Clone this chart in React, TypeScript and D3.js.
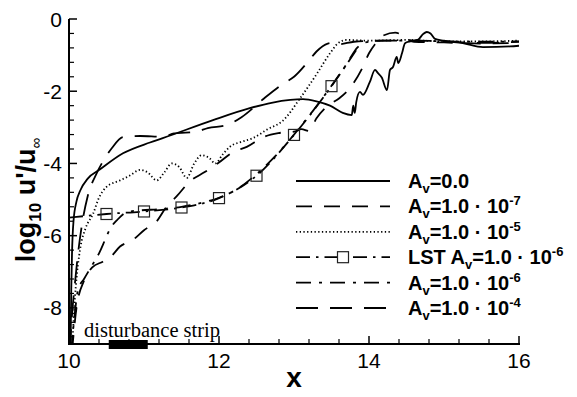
import * as d3 from 'd3';

// amplitude curves, log10 u'/u_inf over x
const av0: [number, number][] = [
  [10.02, -9.2], [10.03, -7.5], [10.04, -6.5], [10.06, -5.6], [10.1, -5.05], [10.15, -4.75],
  [10.25, -4.42], [10.41, -4.17], [10.72, -3.72], [11.08, -3.42], [11.25, -3.3], [11.92, -2.8],
  [12.41, -2.47], [12.7, -2.32], [12.95, -2.24], [13.12, -2.22], [13.3, -2.28], [13.48, -2.4],
  [13.65, -2.6], [13.77, -2.66], [13.79, -2.4], [13.81, -2.6], [13.83, -2.3], [13.88, -2.02],
  [13.92, -2.1], [14.01, -1.75], [14.08, -1.41], [14.12, -1.5], [14.17, -1.62], [14.24, -1.97],
  [14.28, -1.41], [14.32, -1.33], [14.37, -1.05], [14.39, -1.22], [14.44, -0.95], [14.48, -0.67],
  [14.55, -0.62], [14.65, -0.58], [14.72, -0.42], [14.77, -0.36], [14.82, -0.4], [14.88, -0.55],
  [15.0, -0.6], [15.25, -0.67], [15.52, -0.78], [15.88, -0.76], [16.0, -0.74],
];
const av1e7: [number, number][] = [
  [10.04, -9.2], [10.1, -8.0], [10.2, -7.25], [10.31, -6.88], [10.45, -6.72], [10.55, -6.6],
  [10.68, -6.3], [10.85, -6.12], [11.0, -5.85], [11.17, -5.6], [11.3, -5.2], [11.44, -4.9],
  [11.61, -4.5], [11.81, -4.24], [11.99, -3.99], [12.19, -3.68], [12.37, -3.54], [12.59, -3.27],
  [12.79, -3.16], [13.0, -3.12], [13.1, -3.05], [13.2, -3.1], [13.3, -2.75], [13.45, -2.4],
  [13.6, -2.2], [13.75, -1.9], [13.9, -1.4], [14.0, -0.95], [14.08, -0.7], [14.2, -0.45],
  [14.35, -0.38], [14.45, -0.45], [14.6, -0.63], [15.0, -0.65], [15.5, -0.68], [16.0, -0.66],
];
const av1e5: [number, number][] = [
  [10.04, -9.2], [10.08, -7.7], [10.12, -6.8], [10.15, -6.35], [10.22, -5.8], [10.32, -5.4],
  [10.4, -4.95], [10.5, -4.65], [10.68, -4.47], [10.8, -4.35], [10.95, -4.18], [11.05, -4.25],
  [11.17, -4.47], [11.27, -4.25], [11.37, -4.0], [11.47, -4.1], [11.57, -4.4], [11.67, -4.0],
  [11.77, -3.77], [11.87, -3.85], [11.95, -4.0], [12.05, -3.75], [12.15, -3.53], [12.3, -3.4],
  [12.45, -3.3], [12.65, -3.05], [12.85, -2.82], [13.08, -2.2], [13.31, -1.5], [13.48, -0.95],
  [13.6, -0.65], [13.7, -0.58], [14.0, -0.6], [14.5, -0.58], [15.0, -0.62], [15.5, -0.62],
  [16.0, -0.6],
];
const lst1e6: [number, number][] = [
  [10.0, -5.5], [10.2, -5.46], [10.5, -5.4], [11.0, -5.33], [11.5, -5.22], [12.0, -4.96],
  [12.5, -4.34], [13.0, -3.21], [13.5, -1.86], [13.85, -0.8],
];
const lstMarks = [10.5, 11.0, 11.5, 12.0, 12.5, 13.0, 13.5];
const av1e6: [number, number][] = [
  [10.03, -9.2], [10.08, -8.1], [10.12, -7.5], [10.2, -7.2], [10.3, -6.85], [10.41, -6.45],
  [10.48, -6.12], [10.55, -5.8], [10.64, -5.57], [10.77, -5.35], [10.95, -5.3], [11.2, -5.27],
  [11.5, -5.2], [11.75, -5.1], [12.0, -4.95], [12.25, -4.7], [12.5, -4.3], [12.75, -3.8],
  [13.0, -3.2], [13.25, -2.55], [13.5, -1.85], [13.7, -1.25], [13.85, -0.78], [13.95, -0.65],
  [14.2, -0.6], [14.6, -0.6], [15.0, -0.62], [15.5, -0.63], [16.0, -0.62],
];
const av1e4: [number, number][] = [
  [10.01, -9.2], [10.04, -8.2], [10.08, -7.3], [10.12, -6.5], [10.18, -5.6], [10.25, -4.9],
  [10.37, -4.27], [10.48, -3.85], [10.57, -3.58], [10.72, -3.27], [10.95, -3.24], [11.25, -3.26],
  [11.4, -3.17], [11.7, -3.12], [11.85, -3.02], [12.1, -2.94], [12.3, -2.72], [12.6, -2.2],
  [12.85, -1.8], [13.0, -1.6], [13.2, -1.15], [13.3, -0.9], [13.45, -0.68], [13.52, -0.66],
  [13.6, -0.7], [13.8, -0.63], [14.2, -0.6], [14.6, -0.6], [15.0, -0.62], [15.5, -0.66],
  [16.0, -0.63],
];

const xMajor = [10, 12, 14, 16];
const yMajor = [0, -2, -4, -6, -8];
const strip = [10.53, 11.05];
const legendExp = [null, '-7', '-5', '-6', '-6', '-4'];
const legendPrefix = ['', '', '', 'LST ', '', ''];

const W = 577;
const H = 397;
const left = 69;
const right = 519;
const top = 19;
const bottom = 344;

const x = d3.scaleLinear().domain([10, 16]).range([left, right]);
const y = d3.scaleLinear().domain([-9, 0]).range([bottom, top]);

const line = d3
  .line<[number, number]>()
  .x((d) => x(d[0]))
  .y((d) => y(d[1]))
  .curve(d3.curveMonotoneX);

const series = [
  { data: av0, dash: 'none' },
  { data: av1e7, dash: '16 12' },
  { data: av1e5, dash: '1.3 2.4' },
  { data: lst1e6, dash: '14 6 2.5 6' },
  { data: av1e6, dash: '15 8 3 8' },
  { data: av1e4, dash: '22 12' },
];

const font = 'Helvetica, Arial, "Liberation Sans", sans-serif';

export default function App() {
  const minorX = d3.range(10, 16.001, 0.4).filter((v) => !xMajor.some((m) => Math.abs(m - v) < 1e-6));
  const minorY = d3.range(0, -9.001, -0.4).filter((v) => !yMajor.some((m) => Math.abs(m - v) < 1e-6));
  const sq = 11;
  const legendY = (i: number) => 181 + 25.4 * i;

  return (
    <svg width={W} height={H} style={{ position: 'absolute', left: 0, top: 0, background: '#fff' }}>
      <defs>
        <clipPath id="plot">
          <rect x={left} y={top} width={right - left} height={bottom - top} />
        </clipPath>
      </defs>

      <g clipPath="url(#plot)" fill="none" stroke="#000" strokeWidth={1.8}>
        {series.map((s, i) => (
          <path key={i} d={line(s.data) ?? ''} strokeDasharray={s.dash} strokeLinecap="butt" />
        ))}
      </g>
      {lstMarks.map((v) => {
        const yy = lst1e6.find((p) => Math.abs(p[0] - v) < 1e-6)![1];
        return (
          <rect key={v} x={x(v) - sq / 2} y={y(yy) - sq / 2} width={sq} height={sq} fill="none" stroke="#222" strokeWidth={1.2} />
        );
      })}

      {/* axes */}
      <line x1={left} x2={left} y1={top} y2={bottom + 1} stroke="#000" strokeWidth={2} />
      <line x1={left - 1} x2={right + 1} y1={bottom} y2={bottom} stroke="#000" strokeWidth={2} />
      {xMajor.map((v) => (
        <g key={v}>
          <line x1={x(v)} x2={x(v)} y1={bottom} y2={bottom - 8} stroke="#000" strokeWidth={1.5} />
          <text x={x(v)} y={368} textAnchor="middle" fontFamily={font} fontSize={21}>
            {v}
          </text>
        </g>
      ))}
      {minorX.map((v) => (
        <line key={v} x1={x(v)} x2={x(v)} y1={bottom} y2={bottom - 5} stroke="#000" strokeWidth={1.2} />
      ))}
      {yMajor.map((v) => (
        <g key={v}>
          <line x1={left} x2={left + 8} y1={y(v)} y2={y(v)} stroke="#000" strokeWidth={1.5} />
          <text x={62} y={y(v) + 7.5} textAnchor="end" fontFamily={font} fontSize={21}>
            {v}
          </text>
        </g>
      ))}
      {minorY.map((v) => (
        <line key={v} x1={left} x2={left + 5} y1={y(v)} y2={y(v)} stroke="#000" strokeWidth={1.2} />
      ))}

      <text x={294} y={387} textAnchor="middle" fontFamily={font} fontSize={28} fontWeight="bold">
        x
      </text>
      <text transform="translate(35,200) rotate(-90)" textAnchor="middle" fontFamily={font} fontSize={27} fontWeight="bold">
        log<tspan fontSize={17} dy={6}>10</tspan>
        <tspan dy={-6}> u'/u</tspan>
        <tspan fontSize={15} fontWeight="normal" dy={6}>∞</tspan>
      </text>

      {/* disturbance strip */}
      <rect x={x(strip[0])} y={bottom - 4} width={x(strip[1]) - x(strip[0])} height={9} fill="#000" />
      <text x={84} y={337} fontFamily='"Liberation Serif", "Times New Roman", serif' fontSize={20.5}>
        disturbance strip
      </text>

      {/* legend */}
      {series.map((s, i) => {
        const ly = legendY(i);
        return (
          <g key={i}>
            <line x1={296} x2={390} y1={ly} y2={ly} stroke="#000" strokeWidth={1.8} strokeDasharray={s.dash} />
            {i === 3 && <rect x={343 - sq / 2} y={ly - sq / 2} width={sq} height={sq} fill="#fff" stroke="#222" strokeWidth={1.2} />}
            <text x={408} y={ly + 7} fontFamily={font} fontSize={20} fontWeight="bold">
              {legendPrefix[i]}A<tspan fontSize={13} dy={5}>v</tspan>
              <tspan dy={-5}>{legendExp[i] ? '=1.0 · 10' : '=0.0'}</tspan>
              {legendExp[i] && (
                <tspan fontSize={13} dy={-8}>
                  {legendExp[i]}
                </tspan>
              )}
            </text>
          </g>
        );
      })}
    </svg>
  );
}
